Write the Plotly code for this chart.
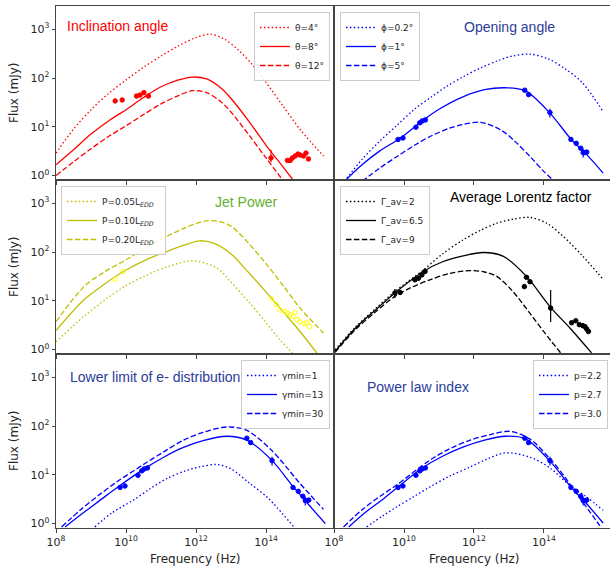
import plotly.graph_objects as go

# ---------------- data (log10 nu [Hz], log10 flux [mJy]) ----------------
# Panel 1: inclination angle
th4_nu = [8.0, 8.5, 9.0, 9.5, 10.0, 10.5, 11.0, 11.5, 12.0, 12.4, 12.8, 13.2, 13.6, 14.0, 14.5, 15.0, 15.64]
th4_F = [0.46, 0.95, 1.35, 1.68, 1.96, 2.22, 2.45, 2.66, 2.83, 2.90, 2.80, 2.58, 2.28, 1.91, 1.41, 0.92, 0.40]
th8_nu = [8.0, 8.5, 9.0, 9.5, 10.0, 10.5, 11.0, 11.5, 11.9, 12.3, 12.7, 13.0, 13.5, 14.0, 14.5, 14.8]
th8_F = [0.22, 0.53, 0.85, 1.12, 1.35, 1.60, 1.82, 1.96, 2.02, 1.98, 1.80, 1.58, 1.12, 0.62, 0.16, -0.12]
th12_nu = [8.0, 8.5, 9.0, 9.5, 10.0, 10.5, 11.0, 11.5, 11.9, 12.3, 12.7, 13.0, 13.5, 14.0, 14.5]
th12_F = [0.0, 0.28, 0.55, 0.80, 1.02, 1.25, 1.47, 1.64, 1.74, 1.70, 1.52, 1.30, 0.84, 0.36, -0.12]

# Panel 2: opening angle
ph02_nu = [8.3, 8.8, 9.3, 9.8, 10.3, 10.8, 11.2, 11.7, 12.2, 12.7, 13.1, 13.6, 14.1, 14.6, 15.1, 15.69]
ph02_F = [-0.12, 0.33, 0.70, 1.03, 1.36, 1.62, 1.82, 2.03, 2.21, 2.36, 2.45, 2.49, 2.40, 2.19, 1.90, 1.31]
ph1_nu = [8.3, 8.8, 9.3, 9.9, 10.5, 11.0, 11.7, 12.3, 12.9, 13.46, 14.17, 14.79, 15.17, 15.69]
ph1_F = [-0.12, 0.22, 0.50, 0.77, 1.11, 1.36, 1.62, 1.76, 1.80, 1.74, 1.28, 0.73, 0.47, 0.05]
ph5_nu = [8.8, 9.3, 9.8, 10.3, 10.8, 11.3, 11.7, 12.2, 12.8, 13.2, 13.6, 14.0, 14.3]
ph5_F = [-0.12, 0.15, 0.39, 0.62, 0.82, 0.97, 1.05, 1.09, 0.92, 0.68, 0.39, 0.08, -0.12]

# Panel 3: jet power
p05_nu = [8.0, 8.8, 9.4, 10.0, 10.6, 11.2, 11.9, 12.6, 13.0, 13.5, 14.0, 14.4, 14.85]
p05_F = [0.16, 0.68, 1.02, 1.31, 1.53, 1.70, 1.82, 1.67, 1.38, 0.98, 0.55, 0.20, -0.15]
p10_nu = [8.0, 8.8, 9.4, 10.0, 10.6, 11.2, 11.7, 12.1, 12.5, 13.0, 13.5, 14.16, 14.6, 14.97, 15.5]
p10_F = [0.39, 1.02, 1.35, 1.63, 1.85, 2.02, 2.15, 2.23, 2.18, 1.96, 1.58, 1.05, 0.68, 0.37, -0.12]
p20_nu = [8.0, 8.8, 9.4, 10.0, 10.6, 11.16, 11.7, 12.3, 12.8, 13.07, 13.5, 14.02, 14.5, 14.97, 15.64]
p20_F = [0.57, 1.29, 1.60, 1.84, 2.10, 2.32, 2.50, 2.64, 2.60, 2.49, 2.18, 1.74, 1.30, 0.85, 0.34]

# Panel 4: average Lorentz factor
g2_nu = [8.03, 8.6, 9.2, 9.74, 10.55, 11.1, 11.69, 12.2, 12.65, 13.1, 13.6, 14.1, 14.55, 15.1, 15.69]
g2_F = [-0.01, 0.45, 0.85, 1.19, 1.63, 1.96, 2.25, 2.45, 2.59, 2.67, 2.71, 2.58, 2.32, 1.92, 1.44]
g65_nu = [8.03, 8.6, 9.2, 9.74, 10.55, 11.1, 11.69, 12.27, 12.84, 13.5, 14.17, 14.74, 15.36]
g65_F = [-0.04, 0.43, 0.82, 1.16, 1.60, 1.80, 1.92, 1.99, 1.91, 1.50, 0.88, 0.44, -0.07]
g9_nu = [8.03, 8.6, 9.2, 9.74, 10.2, 10.74, 11.3, 11.89, 12.3, 12.65, 13.1, 13.6, 14.0, 14.51]
g9_F = [-0.06, 0.40, 0.78, 1.09, 1.27, 1.43, 1.56, 1.62, 1.59, 1.50, 1.20, 0.74, 0.36, -0.10]

# Panel 5: lower limit of e- distribution
gm1_nu = [9.11, 9.6, 10.21, 10.7, 11.16, 11.7, 12.1, 12.59, 13.0, 13.54, 14.0, 14.21, 14.83]
gm1_F = [-0.07, 0.22, 0.48, 0.72, 0.92, 1.08, 1.16, 1.21, 1.12, 0.82, 0.56, 0.41, -0.10]
gm13_nu = [8.26, 8.8, 9.3, 9.73, 10.54, 11.1, 11.64, 12.2, 12.88, 13.45, 14.16, 14.78, 15.2, 15.69]
gm13_F = [-0.07, 0.23, 0.50, 0.73, 1.13, 1.37, 1.56, 1.70, 1.79, 1.71, 1.30, 0.75, 0.40, 0.00]
gm30_nu = [8.16, 8.7, 9.2, 9.73, 10.54, 11.1, 11.64, 12.2, 12.88, 13.45, 14.16, 14.97, 15.64]
gm30_F = [-0.07, 0.28, 0.57, 0.85, 1.23, 1.48, 1.71, 1.87, 1.98, 1.91, 1.50, 0.82, 0.29]

# Panel 6: power law index
pl22_nu = [8.93, 9.4, 9.79, 10.3, 10.74, 11.3, 11.89, 12.4, 12.9, 13.6, 14.17, 14.74, 15.21, 15.69]
pl22_F = [-0.07, 0.16, 0.34, 0.56, 0.75, 0.97, 1.16, 1.33, 1.45, 1.36, 1.14, 0.78, 0.55, 0.27]
pl27_nu = [8.42, 8.9, 9.4, 9.83, 10.5, 11.1, 11.7, 12.3, 12.9, 13.46, 14.17, 14.79, 15.2, 15.69]
pl27_F = [-0.07, 0.23, 0.50, 0.75, 1.13, 1.38, 1.57, 1.71, 1.79, 1.74, 1.28, 0.73, 0.42, 0.01]
pl30_nu = [8.27, 8.8, 9.3, 9.79, 10.74, 11.3, 11.89, 12.5, 13.03, 13.6, 14.17, 14.6, 15.0, 15.6]
pl30_F = [-0.07, 0.28, 0.55, 0.79, 1.30, 1.53, 1.71, 1.83, 1.89, 1.73, 1.33, 0.95, 0.55, -0.05]

# observed points
red_nu = [9.69, 9.89, 10.30, 10.40, 10.51, 10.64, 14.14, 14.61, 14.69, 14.75, 14.83, 14.91, 14.97, 15.07, 15.14, 15.21]
red_F = [1.53, 1.55, 1.63, 1.65, 1.70, 1.63, 0.36, 0.31, 0.31, 0.36, 0.40, 0.44, 0.42, 0.40, 0.46, 0.34]
red_eup = [0, 0, 0, 0, 0, 0, 1.1, 0, 0, 0, 0, 0, 0, 0, 0, 0]
red_edn = [0, 0, 0, 0, 0, 0, 0.43, 0, 0, 0, 0, 0, 0, 0, 0, 0]

blue_nu = [9.83, 9.97, 10.34, 10.45, 10.52, 10.61, 13.45, 13.56, 14.17, 14.77, 14.92, 15.05, 15.12, 15.17, 15.22]
blue_F = [0.74, 0.77, 0.99, 1.08, 1.12, 1.14, 1.75, 1.66, 1.29, 0.74, 0.66, 0.56, 0.47, 0.47, 0.48]
blue_err = [0, 0, 0, 0, 0, 0, 0, 0, 4.0, 0, 0, 0, 0.6, 0, 0]

black_nu = [9.74, 9.89, 10.31, 10.41, 10.51, 10.60, 13.44, 13.50, 13.60, 14.19, 14.79, 14.91, 15.01, 15.11, 15.17, 15.22, 15.27]
black_F = [1.16, 1.17, 1.43, 1.46, 1.53, 1.60, 1.29, 1.48, 1.39, 0.85, 0.55, 0.59, 0.51, 0.49, 0.47, 0.42, 0.37]
black_eup = [3.0, 0, 0, 0, 0, 0, 0, 0, 0, 9.5, 0, 0, 0, 0, 0, 0, 0]
black_edn = [3.0, 0, 0, 0, 0, 0, 0, 0, 0, 3.4, 0, 0, 0, 0, 0, 0, 0]

yel_nu = [9.69, 9.91, 14.16, 14.29, 14.40, 14.54, 14.61, 14.69, 14.78, 14.83, 14.88, 14.97, 15.09, 15.16, 15.24]
yel_F = [1.44, 1.60, 1.04, 0.92, 0.81, 0.78, 0.75, 0.71, 0.68, 0.76, 0.62, 0.57, 0.53, 0.55, 0.47]

x_tick_exp = [8, 10, 12, 14, 16]
y_tick_exp = [0, 1, 2, 3]

# ---------------- styling ----------------
RED, BLUE, YEL, BLK = "#ff0000", "#0000ff", "#bfbf00", "#000000"
NAVY = "#2b3c9b"
AX = "#444444"
DOT = "1.5px,2.4px"
DASH = "5.5px,2.4px"
TICKFONT = dict(family="DejaVu Sans", size=11, color="#262626")
LEGFONT = dict(family="DejaVu Sans", size=9, color="#262626")
TITLEFONT = "Liberation Sans, Arial, sans-serif"


def lin(v):
    return [10 ** a for a in v]


fig = go.Figure()


def curve(nu, F, color, dash, name, k, leg):
    fig.add_trace(go.Scatter(
        x=lin(nu), y=lin(F), mode="lines", name=name,
        line=dict(color=color, width=1.3, dash=dash, shape="spline", smoothing=0.9),
        xaxis="x" if k == 1 else f"x{k}", yaxis="y" if k == 1 else f"y{k}",
        legend=leg, showlegend=True))


def points(nu, F, color, k, eup=None, edn=None, open_=False):
    err = None
    if eup is not None:
        err = dict(type="data", array=eup, arrayminus=edn if edn is not None else eup,
                   visible=True, thickness=1.2, width=0, color=color)
    fig.add_trace(go.Scatter(
        x=lin(nu), y=lin(F), mode="markers", showlegend=False,
        marker=dict(color=color, size=4.5, symbol="circle-open" if open_ else "circle",
                    line=dict(width=1, color=color)),
        error_y=err,
        xaxis="x" if k == 1 else f"x{k}", yaxis="y" if k == 1 else f"y{k}"))


# panel 1
curve(th4_nu, th4_F, RED, DOT, "θ=4°", 1, "legend")
curve(th8_nu, th8_F, RED, "solid", "θ=8°", 1, "legend")
curve(th12_nu, th12_F, RED, DASH, "θ=12°", 1, "legend")
points(red_nu, red_F, RED, 1, red_eup, red_edn)
# panel 2
curve(ph02_nu, ph02_F, BLUE, DOT, "ϕ=0.2°", 2, "legend2")
curve(ph1_nu, ph1_F, BLUE, "solid", "ϕ=1°", 2, "legend2")
curve(ph5_nu, ph5_F, BLUE, DASH, "ϕ=5°", 2, "legend2")
points(blue_nu, blue_F, BLUE, 2, blue_err)
# panel 3
curve(p05_nu, p05_F, YEL, DOT, "P=0.05L<sub><i>EDD</i></sub>&nbsp;&nbsp;", 3, "legend3")
curve(p10_nu, p10_F, YEL, "solid", "P=0.10L<sub><i>EDD</i></sub>&nbsp;&nbsp;", 3, "legend3")
curve(p20_nu, p20_F, YEL, DASH, "P=0.20L<sub><i>EDD</i></sub>&nbsp;&nbsp;", 3, "legend3")
points(yel_nu, yel_F, "#ffff00", 3, open_=True)
# panel 4
curve(g2_nu, g2_F, BLK, DOT, "Γ_av=2", 4, "legend4")
curve(g65_nu, g65_F, BLK, "solid", "Γ_av=6.5", 4, "legend4")
curve(g9_nu, g9_F, BLK, DASH, "Γ_av=9", 4, "legend4")
points(black_nu, black_F, BLK, 4, black_eup, black_edn)
# panel 5
curve(gm1_nu, gm1_F, BLUE, DOT, "γmin=1", 5, "legend5")
curve(gm13_nu, gm13_F, BLUE, "solid", "γmin=13", 5, "legend5")
curve(gm30_nu, gm30_F, BLUE, DASH, "γmin=30", 5, "legend5")
points(blue_nu, blue_F, BLUE, 5, blue_err)
# panel 6
curve(pl22_nu, pl22_F, BLUE, DOT, "p=2.2", 6, "legend6")
curve(pl27_nu, pl27_F, BLUE, "solid", "p=2.7", 6, "legend6")
curve(pl30_nu, pl30_F, BLUE, DASH, "p=3.0", 6, "legend6")
points(blue_nu, blue_F, BLUE, 6, blue_err)

# ---------------- axes ----------------
W, H = 610, 568
ML, MR, MT, MB = 56, 0, 6, 40
PW, PH = W - ML - MR, H - MT - MB
XSPLIT = 278 / PW
xdom = {1: [0, XSPLIT], 2: [XSPLIT, 1]}
ydom = {1: [2 / 3, 1], 2: [1 / 3, 2 / 3], 3: [0, 1 / 3]}
YR = [-0.092, 3.477]
XR_L = [8, 15.94]
XR_R = [8, 15.886]

xt_vals = [10 ** e for e in x_tick_exp]
xt_text = [f"10<sup>{e}</sup>" for e in x_tick_exp]
yt_vals = [10 ** e for e in y_tick_exp]
yt_text = [f"10<sup>{e}</sup>" for e in y_tick_exp]

layout_axes = {}
for k in range(1, 7):
    col = 1 if k % 2 == 1 else 2
    row = (k + 1) // 2
    xn = "xaxis" if k == 1 else f"xaxis{k}"
    yn = "yaxis" if k == 1 else f"yaxis{k}"
    layout_axes[xn] = dict(
        type="log", domain=xdom[col], range=XR_L if col == 1 else XR_R,
        anchor="y" if k == 1 else f"y{k}",
        showline=True, mirror=True, linecolor=AX, linewidth=1,
        ticks="outside", ticklen=3.5, tickcolor=AX, tickwidth=1,
        tickvals=xt_vals, ticktext=xt_text, showticklabels=(row == 3),
        tickfont=TICKFONT, showgrid=False, zeroline=False)
    layout_axes[yn] = dict(
        type="log", domain=ydom[row], range=YR,
        anchor="x" if k == 1 else f"x{k}",
        showline=True, mirror=(col == 1), linecolor=AX, linewidth=1,
        ticks="outside" if col == 1 else "", ticklen=3.5, tickcolor=AX, tickwidth=1,
        tickvals=yt_vals, ticktext=yt_text, showticklabels=(col == 1),
        tickfont=TICKFONT, showgrid=False, zeroline=False)


def px_x(p):
    return (p - ML) / PW


def px_y(p):
    return (H - MB - p) / PH


def legend_box(xp, yp, xanchor):
    return dict(x=px_x(xp), y=px_y(yp), xanchor=xanchor, yanchor="top",
                font=LEGFONT, bgcolor="rgba(255,255,255,0.85)", bordercolor="#cccccc",
                borderwidth=1, itemwidth=30, tracegroupgap=0, traceorder="normal")


fig.update_layout(
    width=W, height=H, margin=dict(l=ML, r=MR, t=MT, b=MB),
    paper_bgcolor="white", plot_bgcolor="white",
    legend=legend_box(330, 12, "right"),
    legend2=legend_box(340, 12, "left"),
    legend3=legend_box(61, 186, "left"),
    legend4=legend_box(340, 186, "left"),
    legend5=legend_box(330, 360, "right"),
    legend6=legend_box(608, 360, "right"),
    **layout_axes)

# panel titles
titles = [
    ("Inclination angle", 65, 26, "left", RED),
    ("Opening angle", 509, 27, "center", NAVY),
    ("Jet Power", 246, 202, "center", "#66b032"),
    ("Average Lorentz factor", 521, 197, "center", "#000000"),
    ("Lower limit of e- distribution", 68, 377, "left", NAVY),
    ("Power law index", 365, 387, "left", NAVY),
]
for txt, xp, yp, xa, c in titles:
    fig.add_annotation(text=txt, x=px_x(xp), y=px_y(yp), xref="paper", yref="paper",
                       xanchor=xa, yanchor="middle", showarrow=False,
                       font=dict(family=TITLEFONT, size=14, color=c))

# axis labels
for yc in [93, 267, 441]:
    fig.add_annotation(text="Flux (mJy)", x=px_x(14), y=px_y(yc), xref="paper", yref="paper",
                       textangle=-90, showarrow=False, xanchor="center", yanchor="middle",
                       font=dict(family="DejaVu Sans", size=12, color="#262626"))
for xc in [195, 474]:
    fig.add_annotation(text="Frequency (Hz)", x=px_x(xc), y=px_y(559), xref="paper", yref="paper",
                       showarrow=False, xanchor="center", yanchor="middle",
                       font=dict(family="DejaVu Sans", size=12, color="#262626"))

fig.write_html(
    "out.html",
    config={"displayModeBar": False},
    post_script="document.body.style.margin='0';document.body.style.padding='0';"
                "document.body.style.overflow='hidden';")
